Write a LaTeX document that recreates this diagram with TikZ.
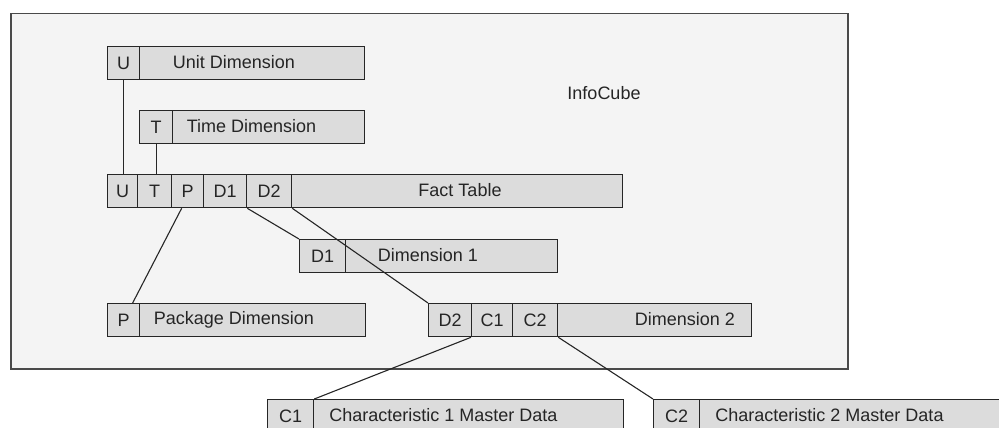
\documentclass[tikz,border=0pt]{standalone}
\usepackage{fontspec}
\setmainfont{Liberation Sans}
\usetikzlibrary{calc}
\definecolor{framefill}{HTML}{F4F4F4}
\definecolor{frameline}{HTML}{4A4A4A}
\definecolor{boxfill}{HTML}{DCDCDC}
\definecolor{boxline}{HTML}{262626}
\definecolor{txt}{HTML}{252525}
\tikzset{
  cell/.style={draw=boxline, fill=boxfill, line width=1.3pt, minimum height=33,
    inner sep=0pt, anchor=north west, font=\fontsize{18}{20}\selectfont, text=txt},
  lbl/.style={inner sep=0pt, font=\fontsize{18}{20}\selectfont, text=txt},
  conn/.style={draw=black!85, line width=1.1pt},
}
\begin{document}
\begin{tikzpicture}[x=1pt,y=-1pt]
\useasboundingbox (0,0) rectangle (999,428);
\clip (0,0) rectangle (999,428);
% InfoCube frame
\node[draw=frameline, fill=framefill, line width=1.5pt, minimum width=837, minimum height=355,
  inner sep=0pt, anchor=north west] (frame) at (10,13) {};
\node[lbl] (infocube) at (604,93) {InfoCube};
% Unit Dimension
\node[cell, minimum width=32] (uU) at (107,46) {U};
\node[cell, minimum width=225] (uR) at (139,46) {};
\node[lbl] (uRt) at (234,62.5) {Unit Dimension};
% Time Dimension
\node[cell, minimum width=33] (tT) at (139,110) {T};
\node[cell, minimum width=192] (tR) at (172,110) {};
\node[lbl] (tRt) at (251.5,126.5) {Time Dimension};
% Fact Table
\node[cell, minimum width=30] (fU) at (107,174) {U};
\node[cell, minimum width=34] (fT) at (137,174) {T};
\node[cell, minimum width=32] (fP) at (171,174) {P};
\node[cell, minimum width=43] (fD1) at (203,174) {D1};
\node[cell, minimum width=45] (fD2) at (246,174) {D2};
\node[cell, minimum width=331] (fR) at (291,174) {};
\node[lbl] (fRt) at (460,190.5) {Fact Table};
% Dimension 1
\node[cell, minimum width=46] (aD1) at (299,239) {D1};
\node[cell, minimum width=212] (aR) at (345,239) {};
\node[lbl] (aRt) at (428,255.5) {Dimension 1};
% Package Dimension
\node[cell, minimum width=32] (pP) at (107,303) {P};
\node[cell, minimum width=226] (pR) at (139,303) {};
\node[lbl] (pRt) at (234,319.5) {Package Dimension};
% Dimension 2
\node[cell, minimum width=43] (bD2) at (428,303) {D2};
\node[cell, minimum width=41] (bC1) at (471,303) {C1};
\node[cell, minimum width=45] (bC2) at (512,303) {C2};
\node[cell, minimum width=194] (bR) at (557,303) {};
\node[lbl] (bRt) at (685,319.5) {Dimension 2};
% Characteristic 1 Master Data
\node[cell, minimum width=46] (cC1) at (267,399) {C1};
\node[cell, minimum width=310] (cR) at (313,399) {};
\node[lbl] (cRt) at (443.5,415.5) {Characteristic 1 Master Data};
% Characteristic 2 Master Data
\node[cell, minimum width=46] (dC2) at (653,399) {C2};
\node[cell, minimum width=310] (dR) at (699,399) {};
\node[lbl] (dRt) at (829.5,415.5) {Characteristic 2 Master Data};
% connectors
\draw[conn] (uU.south) -- (uU.south |- fU.north);
\draw[conn] (tT.south) -- (tT.south |- fT.north);
\draw[conn] ($(fP.south)+(-6,0)$) -- ($(pP.north)+(9,0)$);
\draw[conn] (fD1.south east) -- (aD1.north west);
\draw[conn] (fD2.south east) -- (bD2.north west);
\draw[conn] (bC1.south west) -- (cC1.north east);
\draw[conn] (bC2.south east) -- (dC2.north west);
\end{tikzpicture}
\end{document}
